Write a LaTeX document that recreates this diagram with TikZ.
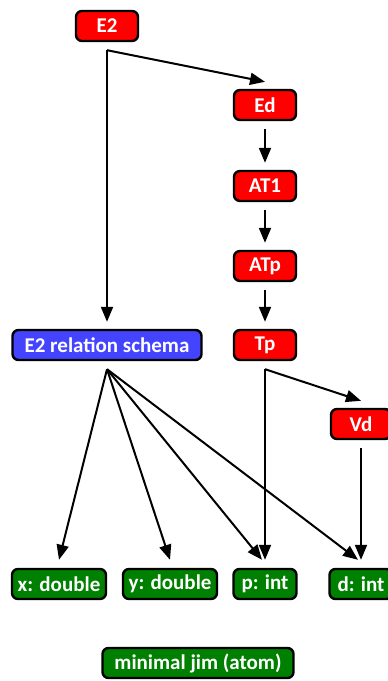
\documentclass[tikz,border=0pt]{standalone}
\usepackage{fontspec}
\setmainfont{Carlito}
\usetikzlibrary{arrows.meta}

\definecolor{redbox}{RGB}{255,0,0}
\definecolor{bluebox}{RGB}{68,68,255}
\definecolor{greenbox}{RGB}{0,128,0}

\begin{document}
\begin{tikzpicture}[x=1pt,y=-1pt]
        \useasboundingbox (0,0) rectangle (388,681);

        \begin{scope}[every node/.style={draw,line width=2.4pt,rounded corners=6pt,
            text=white,font=\bfseries\fontsize{21}{25}\selectfont,
            minimum height=30pt,minimum width=62pt,inner xsep=4pt}]
          \node[fill=redbox] (e2)  at (107,26)  {E2};
          \node[fill=redbox] (ed)  at (265,105) {Ed};
          \node[fill=redbox] (at1) at (265,186) {AT1};
          \node[fill=redbox] (atp) at (265,266) {ATp};
          \node[fill=redbox] (tp)  at (265,345) {Tp};
          \node[fill=redbox,minimum width=60pt] (vd) at (361,424) {Vd};
          \node[fill=bluebox,minimum width=189pt] (rel) at (107,345) {E2 relation schema};
          \node[fill=greenbox,minimum width=94pt] (x)  at (59,584)  {x: double};
          \node[fill=greenbox,minimum width=94pt] (y)  at (170,584) {y: double};
          \node[fill=greenbox,minimum width=63pt] (p)  at (265,584) {p: int};
          \node[fill=greenbox,minimum width=63pt] (d)  at (361,584) {d: int};
          \node[fill=greenbox,minimum width=191pt] (jim) at (198,663) {minimal jim (atom)};
        \end{scope}

        \begin{scope}[every edge/.style={draw,line width=2pt,-{Triangle[length=15pt,width=12pt]}}]
          % top chain
          \path ([yshift=-8pt]e2.south)  edge ([yshift=7pt]ed.north);
          \path ([yshift=-8pt]e2.south)  edge ([yshift=7pt]rel.north);
          \path ([yshift=-8pt]ed.south)  edge ([yshift=7pt]at1.north);
          \path ([yshift=-8pt]at1.south) edge ([yshift=7pt]atp.north);
          \path ([yshift=-8pt]atp.south) edge ([yshift=7pt]tp.north);
          \path ([yshift=-8pt]tp.south)  edge ([yshift=7pt]vd.north);
          \path ([yshift=-8pt]tp.south)  edge ([yshift=8pt]p.north);
          \path ([yshift=-8pt]vd.south)  edge ([yshift=8pt]d.north);
          % schema fields
          \path ([yshift=-8pt]rel.south) edge ([yshift=8pt]x.north);
          \path ([yshift=-8pt]rel.south) edge ([yshift=8pt]y.north);
          \path ([yshift=-8pt]rel.south) edge ([xshift=-3pt,yshift=8pt]p.north);
          \path ([yshift=-8pt]rel.south) edge ([xshift=-3pt,yshift=8pt]d.north);
        \end{scope}

\end{tikzpicture}
\end{document}
